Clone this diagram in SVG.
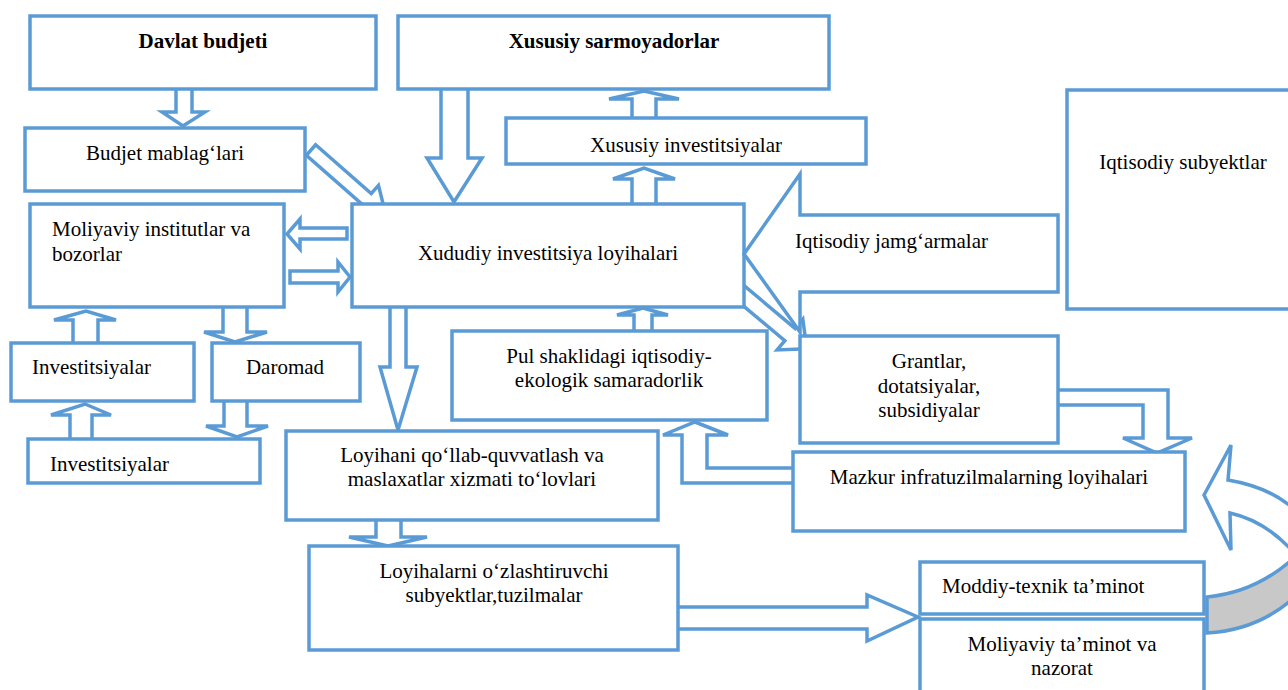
<svg xmlns="http://www.w3.org/2000/svg" width="1288" height="690" viewBox="0 0 1288 690">
<style>
.b{fill:#fff;stroke:#5B9BD5;stroke-width:3.5}
.a{fill:#fff;stroke:#5B9BD5;stroke-width:3.5;stroke-linejoin:miter}
.g{fill:#C8C8C8;stroke:#5B9BD5;stroke-width:3.5}
text{font-family:'Liberation Serif','Times New Roman',Times,'DejaVu Serif',serif;font-size:21px;fill:#000}
.bd{font-weight:bold}
.m{text-anchor:middle}
</style>
<rect width="1288" height="690" fill="#fff"/>
<g id="connectors">
<path class="a" d="M176,86 V112 H162 L183,126 L205,112 H192 V86 Z"/>
<path class="a" d="M441,86 V158 H427 L454,202 L482,158 H468 V86 Z"/>
<path class="a" d="M632,121 V99 H609 L644,91 L679,99 H656 V121 Z"/>
<path class="a" d="M632,207 V179 H613 L644,168 L675,179 H656 V207 Z"/>
<path class="a" transform="translate(311,150) rotate(41.3)" d="M0,-7 H74 V-18 L100,0 L74,18 V7 H0 Z"/>
<path class="a" d="M347,228 H300 V219 L287,234 L300,249 V239 H347 Z"/>
<path class="a" d="M290,271 H338 V262 L350,277 L338,292 V283 H290 Z"/>
<path class="a" d="M73,346 V320 H54 L86,311 L116,320 H98 V346 Z"/>
<path class="a" d="M223,304 V332 H204 L235,342 L267,332 H247 V304 Z"/>
<path class="a" d="M70,442 V415 H51 L85,404 L111,415 H92 V442 Z"/>
<path class="a" d="M224,398 V426 H206 L237,437 L268,426 H247 V398 Z"/>
<path class="a" d="M390,304 V367 H380 L398,430 L417,367 H406 V304 Z"/>
<path class="a" d="M634,334 V315 H617 L643,308 L668,315 H652 V334 Z"/>
<path class="a" d="M695,422 L728,435 H707 V468 H796 V483 H682 V435 H663 Z"/>
<path class="a" transform="translate(744,296) rotate(40)" d="M-12,-8 H60 V-20 L82,0 L60,20 V8 H-12 Z"/>
<path class="a" d="M1055,390 H1168 V438 H1192 L1157,453 L1123,438 H1143 V405 H1055 Z"/>
<path class="a" d="M376,517 V537 H349 L388,546 L427,537 H401 V517 Z"/>
<path class="a" d="M675,607 H867 V595 L918,617 L867,641 V629 H675 Z"/>
<path class="a" d="M1204,495 L1231,445 L1228,480 Q1275,488 1300,515 L1300,560 Q1270,522 1230,513 L1231,550 Z"/>
<path class="g" d="M1207,597 Q1260,592 1300,552 L1300,592 Q1262,630 1207,633 Z"/>
</g>
<g id="davlat"><rect class="b" x="30" y="16" width="346" height="73"/><text class="bd m" x="203" y="48">Davlat budjeti</text></g>
<g id="xususiy-sarmoyadorlar"><rect class="b" x="398" y="16" width="431" height="73"/><text class="bd m" x="614" y="48">Xususiy sarmoyadorlar</text></g>
<g id="budjet-mablaglari"><rect class="b" x="25" y="128" width="280" height="63"/><text class="m" x="165" y="160">Budjet mablag‘lari</text></g>
<g id="xususiy-investitsiyalar"><rect class="b" x="506" y="118" width="360" height="46"/><text class="m" x="686" y="152">Xususiy investitsiyalar</text></g>
<g id="moliyaviy-institutlar"><rect class="b" x="30" y="204" width="254" height="103"/><text x="52" y="236">Moliyaviy institutlar va</text><text x="52" y="261">bozorlar</text></g>
<g id="xududiy"><rect class="b" x="352" y="204" width="392" height="103"/><text class="m" x="548" y="260">Xududiy investitsiya loyihalari</text></g>
<g id="iqtisodiy-jamgarmalar"><polygon class="b" points="744,254 800,174 800,215 1058,215 1058,292 800,292 800,332"/><text x="795" y="248">Iqtisodiy jamg‘armalar</text></g>
<g id="iqtisodiy-subyektlar"><rect class="b" x="1067" y="90" width="230" height="219"/><text class="m" x="1183" y="169">Iqtisodiy subyektlar</text></g>
<g id="investitsiyalar1"><rect class="b" x="11" y="343" width="183" height="58"/><text x="32" y="374">Investitsiyalar</text></g>
<g id="daromad"><rect class="b" x="212" y="343" width="148" height="58"/><text class="m" x="285" y="374">Daromad</text></g>
<g id="investitsiyalar2"><rect class="b" x="28" y="439" width="232" height="44"/><text x="50" y="471">Investitsiyalar</text></g>
<g id="pul"><rect class="b" x="452" y="331" width="315" height="89"/><text class="m" x="609" y="363">Pul shaklidagi iqtisodiy-</text><text class="m" x="609" y="387">ekologik samaradorlik</text></g>
<g id="grantlar"><rect class="b" x="800" y="336" width="258" height="107"/><text class="m" x="929" y="368">Grantlar,</text><text class="m" x="929" y="393">dotatsiyalar,</text><text class="m" x="929" y="417">subsidiyalar</text></g>
<g id="loyihani"><rect class="b" x="286" y="431" width="372" height="89"/><text class="m" x="472" y="462">Loyihani qo‘llab-quvvatlash va</text><text class="m" x="472" y="486">maslaxatlar xizmati to‘lovlari</text></g>
<g id="mazkur"><rect class="b" x="793" y="452" width="392" height="79"/><text class="m" x="989" y="484">Mazkur infratuzilmalarning loyihalari</text></g>
<g id="loyihalarni"><rect class="b" x="309" y="546" width="369" height="104"/><text class="m" x="494" y="578">Loyihalarni o‘zlashtiruvchi</text><text class="m" x="494" y="602">subyektlar,tuzilmalar</text></g>
<g id="moddiy"><rect class="b" x="920" y="562" width="284" height="52"/><text x="942" y="593">Moddiy-texnik ta’minot</text></g>
<g id="moliyaviy-taminot"><rect class="b" x="920" y="619" width="284" height="81"/><text class="m" x="1062" y="651">Moliyaviy ta’minot va</text><text class="m" x="1062" y="675">nazorat</text></g>
</svg>
